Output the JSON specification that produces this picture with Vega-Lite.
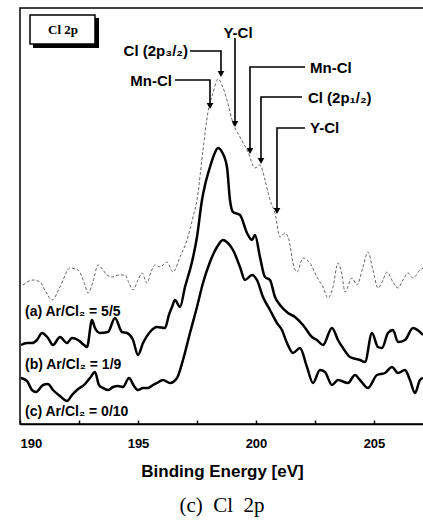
{
  "$schema": "https://vega.github.io/schema/vega-lite/v6.json",
  "width": 404,
  "height": 416,
  "autosize": "none",
  "padding": {"left": 20, "top": 8, "right": 0, "bottom": 105},
  "background": "white",
  "config": {
    "view": {"stroke": "black", "strokeWidth": 1.5},
    "text": {"font": "Liberation Sans", "fontWeight": "bold", "fill": "black"}
  },
  "title": {
    "text": "(c)\u00a0\u00a0Cl\u00a0\u00a02p",
    "orient": "bottom",
    "font": "Liberation Serif",
    "fontSize": 21,
    "fontWeight": "normal",
    "color": "black",
    "offset": 16
  },
  "datasets": {
    "curves": [
      {"series": "a", "E": 190.127, "I": 139}, {"series": "a", "E": 190.551, "I": 144}, {"series": "a", "E": 190.847, "I": 142}, {"series": "a", "E": 191.1, "I": 132}, {"series": "a", "E": 191.356, "I": 124}, {"series": "a", "E": 191.695, "I": 137}, {"series": "a", "E": 192.119, "I": 156}, {"series": "a", "E": 192.458, "I": 154}, {"series": "a", "E": 192.712, "I": 142}, {"series": "a", "E": 192.881, "I": 131}, {"series": "a", "E": 193.09, "I": 142}, {"series": "a", "E": 193.305, "I": 159}, {"series": "a", "E": 193.517, "I": 154}, {"series": "a", "E": 193.686, "I": 149}, {"series": "a", "E": 193.941, "I": 147}, {"series": "a", "E": 194.153, "I": 149}, {"series": "a", "E": 194.449, "I": 149}, {"series": "a", "E": 194.62, "I": 141}, {"series": "a", "E": 194.788, "I": 134}, {"series": "a", "E": 195.0, "I": 144}, {"series": "a", "E": 195.169, "I": 151}, {"series": "a", "E": 195.381, "I": 141}, {"series": "a", "E": 195.55, "I": 152}, {"series": "a", "E": 195.72, "I": 159}, {"series": "a", "E": 195.932, "I": 157}, {"series": "a", "E": 196.229, "I": 162}, {"series": "a", "E": 196.483, "I": 152}, {"series": "a", "E": 196.78, "I": 167}, {"series": "a", "E": 197.076, "I": 184}, {"series": "a", "E": 197.331, "I": 207}, {"series": "a", "E": 197.5, "I": 224}, {"series": "a", "E": 197.754, "I": 274}, {"series": "a", "E": 197.966, "I": 312}, {"series": "a", "E": 198.178, "I": 331}, {"series": "a", "E": 198.39, "I": 345}, {"series": "a", "E": 198.56, "I": 339}, {"series": "a", "E": 198.771, "I": 324}, {"series": "a", "E": 199.025, "I": 301}, {"series": "a", "E": 199.322, "I": 287}, {"series": "a", "E": 199.661, "I": 272}, {"series": "a", "E": 199.958, "I": 256}, {"series": "a", "E": 200.169, "I": 259}, {"series": "a", "E": 200.381, "I": 244}, {"series": "a", "E": 200.593, "I": 224}, {"series": "a", "E": 200.805, "I": 211}, {"series": "a", "E": 201.017, "I": 187}, {"series": "a", "E": 201.229, "I": 191}, {"series": "a", "E": 201.4, "I": 184}, {"series": "a", "E": 201.568, "I": 161}, {"series": "a", "E": 201.737, "I": 152}, {"series": "a", "E": 201.992, "I": 166}, {"series": "a", "E": 202.288, "I": 161}, {"series": "a", "E": 202.585, "I": 147}, {"series": "a", "E": 202.839, "I": 137}, {"series": "a", "E": 203.051, "I": 126}, {"series": "a", "E": 203.263, "I": 137}, {"series": "a", "E": 203.475, "I": 161}, {"series": "a", "E": 203.644, "I": 149}, {"series": "a", "E": 203.771, "I": 132}, {"series": "a", "E": 204.068, "I": 146}, {"series": "a", "E": 204.28, "I": 139}, {"series": "a", "E": 204.534, "I": 157}, {"series": "a", "E": 204.746, "I": 172}, {"series": "a", "E": 204.958, "I": 154}, {"series": "a", "E": 205.169, "I": 136}, {"series": "a", "E": 205.38, "I": 144}, {"series": "a", "E": 205.551, "I": 152}, {"series": "a", "E": 205.805, "I": 142}, {"series": "a", "E": 206.017, "I": 136}, {"series": "a", "E": 206.23, "I": 144}, {"series": "a", "E": 206.441, "I": 151}, {"series": "a", "E": 206.653, "I": 146}, {"series": "a", "E": 206.949, "I": 154}, {"series": "a", "E": 207.08, "I": 156},
      {"series": "b", "E": 190.04, "I": 79}, {"series": "b", "E": 190.297, "I": 81}, {"series": "b", "E": 190.508, "I": 81}, {"series": "b", "E": 190.72, "I": 84}, {"series": "b", "E": 190.932, "I": 91}, {"series": "b", "E": 191.186, "I": 86}, {"series": "b", "E": 191.398, "I": 79}, {"series": "b", "E": 191.695, "I": 87}, {"series": "b", "E": 191.992, "I": 81}, {"series": "b", "E": 192.203, "I": 86}, {"series": "b", "E": 192.458, "I": 84}, {"series": "b", "E": 192.712, "I": 79}, {"series": "b", "E": 192.839, "I": 77}, {"series": "b", "E": 193.051, "I": 104}, {"series": "b", "E": 193.178, "I": 96}, {"series": "b", "E": 193.39, "I": 91}, {"series": "b", "E": 193.729, "I": 92}, {"series": "b", "E": 194.025, "I": 106}, {"series": "b", "E": 194.322, "I": 92}, {"series": "b", "E": 194.534, "I": 91}, {"series": "b", "E": 194.788, "I": 84}, {"series": "b", "E": 195.0, "I": 69}, {"series": "b", "E": 195.212, "I": 81}, {"series": "b", "E": 195.508, "I": 92}, {"series": "b", "E": 195.805, "I": 97}, {"series": "b", "E": 196.144, "I": 96}, {"series": "b", "E": 196.31, "I": 109}, {"series": "b", "E": 196.441, "I": 117}, {"series": "b", "E": 196.568, "I": 124}, {"series": "b", "E": 196.78, "I": 117}, {"series": "b", "E": 196.992, "I": 137}, {"series": "b", "E": 197.288, "I": 162}, {"series": "b", "E": 197.5, "I": 187}, {"series": "b", "E": 197.712, "I": 224}, {"series": "b", "E": 197.84, "I": 239}, {"series": "b", "E": 198.051, "I": 257}, {"series": "b", "E": 198.22, "I": 269}, {"series": "b", "E": 198.39, "I": 276}, {"series": "b", "E": 198.56, "I": 272}, {"series": "b", "E": 198.771, "I": 257}, {"series": "b", "E": 198.898, "I": 224}, {"series": "b", "E": 199.025, "I": 212}, {"series": "b", "E": 199.322, "I": 209}, {"series": "b", "E": 199.619, "I": 191}, {"series": "b", "E": 199.831, "I": 184}, {"series": "b", "E": 199.958, "I": 189}, {"series": "b", "E": 200.169, "I": 167}, {"series": "b", "E": 200.381, "I": 147}, {"series": "b", "E": 200.593, "I": 144}, {"series": "b", "E": 200.805, "I": 127}, {"series": "b", "E": 201.017, "I": 119}, {"series": "b", "E": 201.356, "I": 111}, {"series": "b", "E": 201.653, "I": 107}, {"series": "b", "E": 201.992, "I": 99}, {"series": "b", "E": 202.373, "I": 87}, {"series": "b", "E": 202.585, "I": 84}, {"series": "b", "E": 202.839, "I": 79}, {"series": "b", "E": 203.22, "I": 96}, {"series": "b", "E": 203.475, "I": 84}, {"series": "b", "E": 203.686, "I": 76}, {"series": "b", "E": 203.983, "I": 67}, {"series": "b", "E": 204.407, "I": 64}, {"series": "b", "E": 204.619, "I": 62}, {"series": "b", "E": 204.915, "I": 91}, {"series": "b", "E": 205.169, "I": 77}, {"series": "b", "E": 205.339, "I": 76}, {"series": "b", "E": 205.593, "I": 91}, {"series": "b", "E": 205.805, "I": 94}, {"series": "b", "E": 206.017, "I": 82}, {"series": "b", "E": 206.314, "I": 84}, {"series": "b", "E": 206.653, "I": 96}, {"series": "b", "E": 206.949, "I": 92}, {"series": "b", "E": 207.08, "I": 89},
      {"series": "c", "E": 190.04, "I": 46}, {"series": "c", "E": 190.297, "I": 43}, {"series": "c", "E": 190.508, "I": 34}, {"series": "c", "E": 190.678, "I": 32}, {"series": "c", "E": 190.975, "I": 39}, {"series": "c", "E": 191.186, "I": 40}, {"series": "c", "E": 191.398, "I": 34}, {"series": "c", "E": 191.695, "I": 28}, {"series": "c", "E": 191.992, "I": 23}, {"series": "c", "E": 192.203, "I": 29}, {"series": "c", "E": 192.415, "I": 34}, {"series": "c", "E": 192.754, "I": 40}, {"series": "c", "E": 192.966, "I": 46}, {"series": "c", "E": 193.178, "I": 52}, {"series": "c", "E": 193.347, "I": 39}, {"series": "c", "E": 193.517, "I": 36}, {"series": "c", "E": 193.729, "I": 34}, {"series": "c", "E": 193.941, "I": 37}, {"series": "c", "E": 194.153, "I": 38}, {"series": "c", "E": 194.364, "I": 37}, {"series": "c", "E": 194.619, "I": 46}, {"series": "c", "E": 194.831, "I": 38}, {"series": "c", "E": 195.0, "I": 34}, {"series": "c", "E": 195.212, "I": 36}, {"series": "c", "E": 195.424, "I": 36}, {"series": "c", "E": 195.636, "I": 39}, {"series": "c", "E": 195.805, "I": 41}, {"series": "c", "E": 196.059, "I": 44}, {"series": "c", "E": 196.356, "I": 41}, {"series": "c", "E": 196.653, "I": 46}, {"series": "c", "E": 196.907, "I": 64}, {"series": "c", "E": 197.203, "I": 91}, {"series": "c", "E": 197.5, "I": 117}, {"series": "c", "E": 197.754, "I": 141}, {"series": "c", "E": 198.051, "I": 162}, {"series": "c", "E": 198.347, "I": 177}, {"series": "c", "E": 198.602, "I": 184}, {"series": "c", "E": 198.81, "I": 181}, {"series": "c", "E": 199.025, "I": 174}, {"series": "c", "E": 199.322, "I": 157}, {"series": "c", "E": 199.534, "I": 144}, {"series": "c", "E": 199.831, "I": 149}, {"series": "c", "E": 200.042, "I": 144}, {"series": "c", "E": 200.297, "I": 127}, {"series": "c", "E": 200.593, "I": 114}, {"series": "c", "E": 200.89, "I": 101}, {"series": "c", "E": 201.1, "I": 94}, {"series": "c", "E": 201.314, "I": 81}, {"series": "c", "E": 201.568, "I": 71}, {"series": "c", "E": 201.864, "I": 76}, {"series": "c", "E": 202.161, "I": 57}, {"series": "c", "E": 202.415, "I": 41}, {"series": "c", "E": 202.712, "I": 54}, {"series": "c", "E": 202.924, "I": 52}, {"series": "c", "E": 203.22, "I": 39}, {"series": "c", "E": 203.475, "I": 44}, {"series": "c", "E": 203.898, "I": 41}, {"series": "c", "E": 204.195, "I": 49}, {"series": "c", "E": 204.407, "I": 44}, {"series": "c", "E": 204.746, "I": 36}, {"series": "c", "E": 205.127, "I": 49}, {"series": "c", "E": 205.466, "I": 51}, {"series": "c", "E": 205.763, "I": 57}, {"series": "c", "E": 206.017, "I": 51}, {"series": "c", "E": 206.314, "I": 54}, {"series": "c", "E": 206.525, "I": 44}, {"series": "c", "E": 206.737, "I": 31}, {"series": "c", "E": 206.949, "I": 44}, {"series": "c", "E": 207.08, "I": 46}
    ],
    "paths": [
      {"id": 1, "k": 1, "E": 197.203, "I": 373}, {"id": 1, "k": 2, "E": 198.517, "I": 373}, {"id": 1, "k": 3, "E": 198.517, "I": 352},
      {"id": 2, "k": 1, "E": 199.11, "I": 386}, {"id": 2, "k": 2, "E": 199.11, "I": 303},
      {"id": 3, "k": 1, "E": 196.568, "I": 344}, {"id": 3, "k": 2, "E": 198.051, "I": 344}, {"id": 3, "k": 3, "E": 198.051, "I": 321},
      {"id": 4, "k": 1, "E": 202.076, "I": 357}, {"id": 4, "k": 2, "E": 199.746, "I": 357}, {"id": 4, "k": 3, "E": 199.746, "I": 276},
      {"id": 5, "k": 1, "E": 201.949, "I": 327}, {"id": 5, "k": 2, "E": 200.212, "I": 327}, {"id": 5, "k": 3, "E": 200.212, "I": 266},
      {"id": 6, "k": 1, "E": 202.076, "I": 296}, {"id": 6, "k": 2, "E": 200.89, "I": 296}, {"id": 6, "k": 3, "E": 200.89, "I": 216}
    ],
    "heads": [
      {"E": 198.517, "I": 350}, {"E": 199.11, "I": 300}, {"E": 198.051, "I": 318},
      {"E": 199.746, "I": 273}, {"E": 200.212, "I": 263}, {"E": 200.89, "I": 213}
    ]
  },
  "layer": [
    {
      "data": {"values": [{"x1": 190.551, "x2": 193.347, "y1": 406, "y2": 376}]},
      "mark": {"type": "rect", "fill": "black"},
      "encoding": {
        "x": {"field": "x1", "type": "quantitative", "scale": {"domain": [190, 207.12], "nice": false, "zero": false},
          "axis": {
            "values": [190, 192.5, 195, 197.5, 200, 202.5, 205],
            "labelExpr": "datum.value % 5 == 0 ? datum.label : ''",
            "labelFlush": true,
            "labelFont": "Liberation Sans", "labelFontWeight": "bold", "labelFontSize": 13, "labelColor": "black",
            "labelPadding": 17,
            "tickSize": -4, "tickColor": "black", "tickWidth": 1.5,
            "domainColor": "black", "domainWidth": 1.5,
            "grid": false,
            "title": "Binding Energy [eV]",
            "titleFont": "Liberation Sans", "titleFontWeight": "bold", "titleFontSize": 17, "titleColor": "black",
            "titlePadding": 13
          }},
        "x2": {"field": "x2"},
        "y": {"field": "y1", "type": "quantitative", "scale": {"domain": [0, 416], "nice": false, "zero": false}, "axis": null},
        "y2": {"field": "y2"}
      }
    },
    {
      "data": {"values": [{"x1": 190.424, "x2": 193.178, "y1": 409, "y2": 380}]},
      "mark": {"type": "rect", "fill": "white", "stroke": "black", "strokeWidth": 1.5},
      "encoding": {
        "x": {"field": "x1", "type": "quantitative"},
        "x2": {"field": "x2"},
        "y": {"field": "y1", "type": "quantitative"},
        "y2": {"field": "y2"}
      }
    },
    {
      "data": {"values": [{"E": 191.822, "I": 394, "t": "Cl 2p"}]},
      "mark": {"type": "text", "font": "Liberation Serif", "fontWeight": "bold", "fontSize": 13, "align": "center", "baseline": "middle"},
      "encoding": {
        "x": {"field": "E", "type": "quantitative"},
        "y": {"field": "I", "type": "quantitative"},
        "text": {"field": "t"}
      }
    },
    {
      "data": {"name": "curves"},
      "transform": [{"filter": "datum.series == 'a'"}],
      "mark": {"type": "line", "interpolate": "monotone", "clip": true, "color": "#666666", "strokeWidth": 1, "strokeDash": [3, 2]},
      "encoding": {
        "x": {"field": "E", "type": "quantitative"},
        "y": {"field": "I", "type": "quantitative"}
      }
    },
    {
      "data": {"name": "curves"},
      "transform": [{"filter": "datum.series != 'a'"}],
      "mark": {"type": "line", "interpolate": "monotone", "clip": true, "color": "black", "strokeWidth": 2.5},
      "encoding": {
        "x": {"field": "E", "type": "quantitative"},
        "y": {"field": "I", "type": "quantitative"},
        "detail": {"field": "series"}
      }
    },
    {
      "data": {"name": "paths"},
      "mark": {"type": "line", "color": "black", "strokeWidth": 1.6, "interpolate": "linear"},
      "encoding": {
        "x": {"field": "E", "type": "quantitative"},
        "y": {"field": "I", "type": "quantitative"},
        "detail": {"field": "id"},
        "order": {"field": "k"}
      }
    },
    {
      "data": {"name": "heads"},
      "mark": {"type": "point", "shape": "triangle-down", "filled": true, "color": "black", "size": 45, "opacity": 1},
      "encoding": {
        "x": {"field": "E", "type": "quantitative"},
        "y": {"field": "I", "type": "quantitative"}
      }
    },
    {
      "data": {"values": [
        {"E": 197.12, "I": 373, "t": "Cl (2p\u2083/\u2082)"},
        {"E": 196.44, "I": 343, "t": "Mn-Cl"}
      ]},
      "mark": {"type": "text", "fontSize": 15, "align": "right", "baseline": "middle"},
      "encoding": {
        "x": {"field": "E", "type": "quantitative"},
        "y": {"field": "I", "type": "quantitative"},
        "text": {"field": "t"}
      }
    },
    {
      "data": {"values": [
        {"E": 199.237, "I": 391, "t": "Y-Cl"}
      ]},
      "mark": {"type": "text", "fontSize": 15, "align": "center", "baseline": "middle"},
      "encoding": {
        "x": {"field": "E", "type": "quantitative"},
        "y": {"field": "I", "type": "quantitative"},
        "text": {"field": "t"}
      }
    },
    {
      "data": {"values": [
        {"E": 202.288, "I": 356, "t": "Mn-Cl"},
        {"E": 202.2, "I": 326, "t": "Cl (2p\u2081/\u2082)"},
        {"E": 202.288, "I": 296, "t": "Y-Cl"}
      ]},
      "mark": {"type": "text", "fontSize": 15, "align": "left", "baseline": "middle"},
      "encoding": {
        "x": {"field": "E", "type": "quantitative"},
        "y": {"field": "I", "type": "quantitative"},
        "text": {"field": "t"}
      }
    },
    {
      "data": {"values": [
        {"E": 190.212, "I": 112, "t": "(a) Ar/Cl\u2082 = 5/5"},
        {"E": 190.212, "I": 59, "t": "(b) Ar/Cl\u2082 = 1/9"},
        {"E": 190.212, "I": 12, "t": "(c) Ar/Cl\u2082 = 0/10"}
      ]},
      "mark": {"type": "text", "fontSize": 14, "align": "left", "baseline": "middle"},
      "encoding": {
        "x": {"field": "E", "type": "quantitative"},
        "y": {"field": "I", "type": "quantitative"},
        "text": {"field": "t"}
      }
    }
  ]
}
